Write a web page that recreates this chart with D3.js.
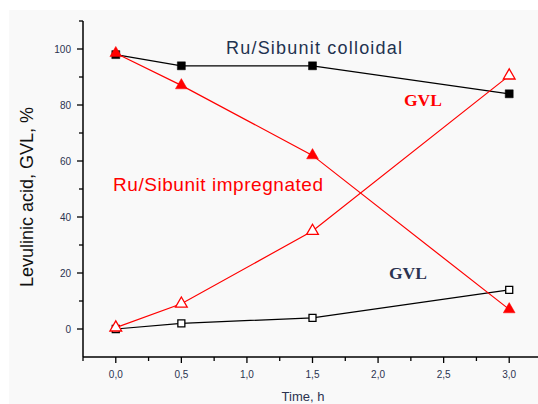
<!DOCTYPE html>
<html>
<head>
<meta charset="utf-8">
<script src="https://cdn.jsdelivr.net/npm/d3@7"></script>
<style>
  body { margin: 0; background: #fff; }
  svg { display: block; }
  .tick-label { font-family: Arial, "Liberation Sans", sans-serif; font-size: 10px; fill: #2b3350; }
</style>
</head>
<body>
<div id="chart"></div>
<script>
// time, h
var times = [0, 0.5, 1.5, 3.0];
// Ru/Sibunit colloidal: levulinic acid and GVL, %
var colloidalLA = [98, 94, 94, 84];
var colloidalGVL = [0, 2, 4, 14];
// Ru/Sibunit impregnated: levulinic acid and GVL, %
var impregLA = [98.5, 87, 62, 7];
var impregGVL = [0.5, 9, 35, 90.5];

var xMajor = [0, 0.5, 1.0, 1.5, 2.0, 2.5, 3.0];
var xMinor = [-0.25, 0.25, 0.75, 1.25, 1.75, 2.25, 2.75];
var yMajor = [0, 20, 40, 60, 80, 100];
var yMinor = [10, 30, 50, 70, 90, 110];

var W = 538, H = 404;

var svg = d3.select("#chart").append("svg")
  .attr("width", W).attr("height", H);

svg.append("rect").attr("x", 9).attr("y", 10)
  .attr("width", W - 9).attr("height", H - 10)
  .attr("fill", "#f9f9f9");

var x = d3.scaleLinear().domain([-0.25, 3.25]).range([83, 542]);
var y = d3.scaleLinear().domain([-10, 110]).range([357, 21]);

var fmtX = function(d) { return d3.format(".1f")(d).replace(".", ","); };

// axes
var xAxis = svg.append("g").attr("transform", "translate(0," + y(-10) + ")");
xAxis.append("line").attr("x1", x(-0.25)).attr("x2", W).attr("stroke", "#000").attr("stroke-width", 1.5);
xAxis.selectAll(".maj").data(xMajor).enter().append("line")
  .attr("x1", function(d) { return x(d); }).attr("x2", function(d) { return x(d); })
  .attr("y1", 0).attr("y2", 6).attr("stroke", "#000").attr("stroke-width", 1.3);
xAxis.selectAll(".min").data(xMinor).enter().append("line")
  .attr("x1", function(d) { return x(d); }).attr("x2", function(d) { return x(d); })
  .attr("y1", 0).attr("y2", 4).attr("stroke", "#000").attr("stroke-width", 1.3);
xAxis.selectAll("text").data(xMajor).enter().append("text")
  .attr("class", "tick-label")
  .attr("x", function(d) { return x(d); }).attr("y", 21)
  .attr("text-anchor", "middle").text(fmtX);

var yAxis = svg.append("g").attr("transform", "translate(" + x(-0.25) + ",0)");
yAxis.append("line").attr("y1", y(110)).attr("y2", y(-10)).attr("stroke", "#000").attr("stroke-width", 1.5);
yAxis.selectAll(".maj").data(yMajor).enter().append("line")
  .attr("y1", function(d) { return y(d); }).attr("y2", function(d) { return y(d); })
  .attr("x1", 0).attr("x2", -6).attr("stroke", "#000").attr("stroke-width", 1.3);
yAxis.selectAll(".min").data(yMinor).enter().append("line")
  .attr("y1", function(d) { return y(d); }).attr("y2", function(d) { return y(d); })
  .attr("x1", 0).attr("x2", -4).attr("stroke", "#000").attr("stroke-width", 1.3);
yAxis.selectAll("text").data(yMajor).enter().append("text")
  .attr("class", "tick-label")
  .attr("x", -12).attr("y", function(d) { return y(d) + 3.5; })
  .attr("text-anchor", "end").text(function(d) { return d; });

// axis titles
svg.append("text")
  .attr("transform", "translate(33," + 197 + ") rotate(-90)")
  .attr("text-anchor", "middle")
  .attr("font-family", "Arial, 'Liberation Sans', sans-serif")
  .attr("font-size", 18).attr("fill", "#111")
  .text("Levulinic acid, GVL, %");

svg.append("text")
  .attr("x", 303).attr("y", 401)
  .attr("text-anchor", "middle")
  .attr("font-family", "Arial, 'Liberation Sans', sans-serif")
  .attr("font-size", 13).attr("fill", "#2b3350")
  .text("Time, h");

// series
var line = d3.line()
  .x(function(d) { return x(d[0]); })
  .y(function(d) { return y(d[1]); });

function pairs(vals) { return times.map(function(t, i) { return [t, vals[i]]; }); }

var series = [
  { vals: colloidalLA, color: "#000", sym: d3.symbolSquare, size: 64, filled: true },
  { vals: colloidalGVL, color: "#000", sym: d3.symbolSquare, size: 49, filled: false },
  { vals: impregLA, color: "#ff0000", sym: d3.symbolTriangle, size: 60, filled: true },
  { vals: impregGVL, color: "#ff0000", sym: d3.symbolTriangle, size: 60, filled: false }
];

series.forEach(function(s) {
  var data = pairs(s.vals);
  svg.append("path").datum(data)
    .attr("d", line).attr("fill", "none")
    .attr("stroke", s.color).attr("stroke-width", 1.2);
  svg.selectAll(null).data(data).enter().append("path")
    .attr("transform", function(d) { return "translate(" + x(d[0]) + "," + y(d[1]) + ")"; })
    .attr("d", d3.symbol().type(s.sym).size(s.size))
    .attr("fill", s.filled ? s.color : "#fff")
    .attr("stroke", s.color).attr("stroke-width", s.filled ? 0.5 : 1.3);
});

// annotations
svg.append("text").attr("x", 226).attr("y", 54)
  .attr("font-family", "Arial, 'Liberation Sans', sans-serif")
  .attr("font-size", 18).attr("fill", "#1f3350")
  .attr("textLength", 176)
  .text("Ru/Sibunit colloidal");

svg.append("text").attr("x", 113).attr("y", 191)
  .attr("font-family", "Arial, 'Liberation Sans', sans-serif")
  .attr("font-size", 19).attr("fill", "#ff0000")
  .attr("textLength", 210)
  .text("Ru/Sibunit impregnated");

svg.append("text").attr("x", 404).attr("y", 106)
  .attr("font-family", "'Liberation Serif', 'Times New Roman', serif")
  .attr("font-size", 17.5).attr("font-weight", "bold").attr("fill", "#ff0000")
  .text("GVL");

svg.append("text").attr("x", 389).attr("y", 279)
  .attr("font-family", "'Liberation Serif', 'Times New Roman', serif")
  .attr("font-size", 17.5).attr("font-weight", "bold").attr("fill", "#2b3350")
  .text("GVL");
</script>
</body>
</html>
